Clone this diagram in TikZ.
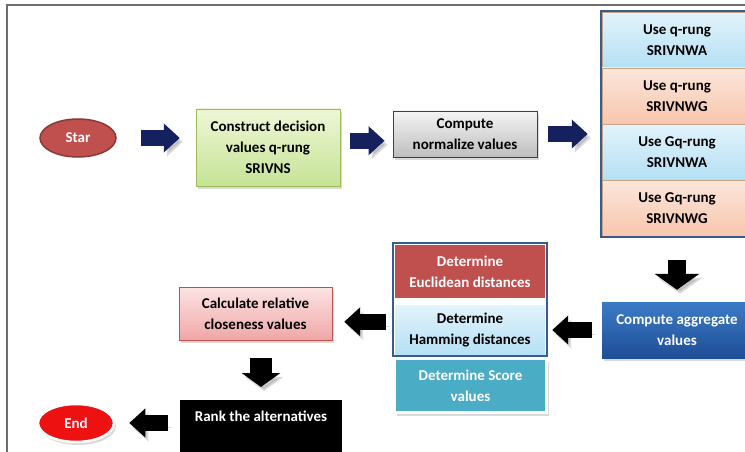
\documentclass[tikz,border=0pt]{standalone}
\usepackage{fontspec}
\setmainfont{Carlito}
\usetikzlibrary{shapes.geometric,arrows.meta,shadows,calc}

\definecolor{framegray}{HTML}{6E6E6E}
\definecolor{navy}{HTML}{14215E}
\definecolor{starred}{HTML}{C0504D}
\definecolor{stardark}{HTML}{8C3836}
\definecolor{greentop}{HTML}{EEF7D6}
\definecolor{greenbot}{HTML}{C6E396}
\definecolor{greenline}{HTML}{9BBB59}
\definecolor{graytop}{HTML}{F4F4F4}
\definecolor{graybot}{HTML}{BEBEBE}
\definecolor{bluetop}{HTML}{E2F3FB}
\definecolor{bluebot}{HTML}{B4E0F5}
\definecolor{salmtop}{HTML}{FCE6DA}
\definecolor{salmbot}{HTML}{F8C6AE}
\definecolor{tanline}{HTML}{C4A484}
\definecolor{stackblue}{HTML}{385D8A}
\definecolor{aggtop}{HTML}{3C7BC8}
\definecolor{aggbot}{HTML}{1F4E94}
\definecolor{scoreteal}{HTML}{4BACC6}
\definecolor{pinktop}{HTML}{FCE4E4}
\definecolor{pinkbot}{HTML}{EFA6A6}
\definecolor{endred}{HTML}{EE1111}

\tikzset{
  txt/.style={align=center, font=\bfseries\fontsize{15}{21}\selectfont},
  shade/.style={drop shadow={opacity=0.3, shadow xshift=2pt, shadow yshift=-3pt}},
  box/.style={txt, rectangle, inner sep=2pt, shade},
  cell/.style={txt, rectangle, inner sep=2pt, minimum width=150pt},
  oval/.style={txt, ellipse, inner sep=0pt, minimum width=76pt, minimum height=38pt},
  % thick shaft + wide head = block arrow
  blockarrow/.style={draw=black, line width=16pt,
    -{Triangle[width=28pt, length=16pt]},
    preaction={draw=gray, opacity=0.3, transform canvas={shift={(3pt,-4pt)}}}},
  widearrow/.style={blockarrow, line width=18pt, -{Triangle[width=44pt, length=16pt]}},
  midarrow/.style={blockarrow, line width=22pt, -{Triangle[width=38pt, length=14pt]}}
}

\begin{document}
\begin{tikzpicture}[x=1pt,y=-1pt]
  % Page size and frame
  \useasboundingbox (0,0) rectangle (745,452);
  \draw[framegray, line width=1.5pt] (7,452) -- (7,5) -- (745,5);

  % Top row
  \node[oval, fill=starred, draw=stardark, line width=1.5pt, text=white] (star) at (78,138) {Star};
  \node[box, top color=greentop, bottom color=greenbot, draw=greenline,
    minimum width=144pt, minimum height=77pt] (construct) at (268,147.5)
    {Construct decision\\values q-rung\\SRIVNS};
  \node[box, top color=graytop, bottom color=graybot, draw=black!75, line width=0.8pt,
    minimum width=144pt, minimum height=46pt] (normalize) at (465,134)
    {Compute\\normalize values};

  % Aggregation operators
  \foreach \i/\y/\c in {1/40/blue, 2/96/salm, 3/152/blue, 4/208/salm} {
    \node[cell, top color=\c top, bottom color=\c bot, draw=tanline,
      minimum height=56pt] (use\i) at (677,\y) {};
  }
  \node[txt] at (use1) {Use q-rung\\SRIVNWA};
  \node[txt] at (use2) {Use q-rung\\SRIVNWG};
  \node[txt] at (use3) {Use Gq-rung\\SRIVNWA};
  \node[txt] at (use4) {Use Gq-rung\\SRIVNWG};
  \draw[stackblue, line width=2pt] ($(use1.north west)+(-1,-1)$) rectangle ($(use4.south east)+(1,1)$);

  \node[box, top color=aggtop, bottom color=aggbot, text=white,
    minimum width=150pt, minimum height=56pt] (aggregate) at (677,330)
    {Compute aggregate\\values};

  % Distance measures
  \node[cell, fill=starred, text=white, minimum height=53pt] (euclid) at (470,271.5)
    {Determine\\Euclidean distances};
  \node[cell, top color=bluetop, bottom color=bluebot, minimum height=50pt] (hamming) at (470,330)
    {Determine\\Hamming distances};
  \draw[stackblue, line width=1.8pt] ($(euclid.north west)+(-2,-2)$) rectangle ($(hamming.south east)+(2,1)$);
  \node[cell, fill=scoreteal, text=white, draw=white, line width=3pt, shade,
    minimum width=152pt, minimum height=54pt] (score) at (470.5,385.5)
    {Determine Score\\values};

  % Bottom left
  \node[box, top color=pinktop, bottom color=pinkbot, draw=starred,
    minimum width=153pt, minimum height=53pt] (calculate) at (255.5,313.5)
    {Calculate relative\\closeness values};
  \node[txt, fill=black, text=white, anchor=north, minimum width=162pt,
    text height=10pt, text depth=40pt, inner ysep=11pt] (rank) at (261,400)
    {Rank the alternatives};
  \node[oval, fill=endred, draw=white, line width=2.5pt, text=white, shade] (finish) at (76,423) {End};

  % Block arrows
  \coordinate (m2) at ($(construct.east)!0.5!(normalize.west)$);
  \coordinate (m6) at ($(hamming.west)!0.5!(calculate.east)$);
  \draw[blockarrow, draw=navy, shorten <=24pt, shorten >=16pt] (star.east) -- (star.east -| construct.west);
  \draw[blockarrow, draw=navy, shorten <=10pt, shorten >=8pt] (construct.east |- m2) -- (normalize.west |- m2);
  \draw[blockarrow, draw=navy, shorten <=11pt, shorten >=14pt] (normalize.east) -- (normalize.east -| use2.west);
  \draw[widearrow, shorten <=24pt, shorten >=12pt] (use4.south) -- (aggregate.north);
  \draw[blockarrow, shorten <=10pt, shorten >=7pt] (aggregate.west) -- (hamming.east);
  \draw[blockarrow, shorten <=9pt, shorten >=12pt] (hamming.west |- m6) -- (calculate.east |- m6);
  \draw[midarrow, shorten <=18pt, shorten >=13pt] (calculate.south -| rank.north) -- (rank.north);
  \draw[blockarrow, shorten <=12pt, shorten >=14pt] (rank.west |- finish.east) -- (finish.east);
\end{tikzpicture}
\end{document}
